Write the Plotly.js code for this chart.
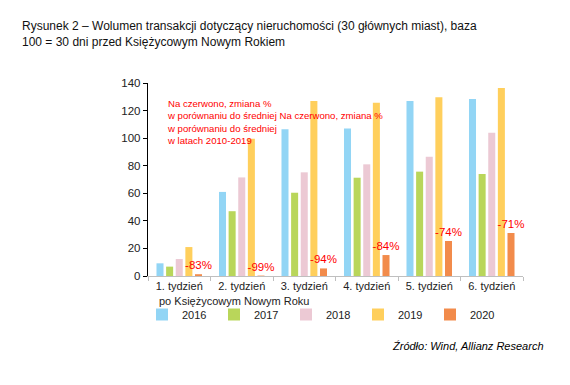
<!DOCTYPE html>
<html><head><meta charset="utf-8">
<script src="https://cdn.plot.ly/plotly-3.0.1.min.js"></script>
<style>html,body{margin:0;padding:0;background:#fff}#chart{width:570px;height:385px}</style>
</head><body><div id="chart"></div>
<script>
const categories = ["1. tydzień", "2. tydzień", "3. tydzień", "4. tydzień", "5. tydzień", "6. tydzień"];
const years = ["2016", "2017", "2018", "2019", "2020"];
const v2016 = [9.2, 61, 106.4, 107, 126.9, 128.4];
const v2017 = [6.8, 47, 60.4, 71.3, 75.7, 74];
const v2018 = [12.3, 71.5, 75.2, 81, 86.5, 104];
const v2019 = [21, 99.5, 126.9, 125.7, 129.6, 136.3];
const v2020 = [1.3, 0.3, 5.5, 15.2, 25.4, 31.2];
const changeLabels = ["-83%", "-99%", "-94%", "-84%", "-74%", "-71%"];
const colors = ["#92d5f5", "#b9d65a", "#ecc9d4", "#ffcf5c", "#f28b4b"];
const series = [v2016, v2017, v2018, v2019, v2020];

const traces = series.map((vals, i) => {
  const t = {
    type: "bar", x: categories, y: vals, name: years[i],
    marker: {color: colors[i]}, hoverinfo: "none"
  };
  if (i === 4) {
    t.text = changeLabels;
    t.textposition = "outside";
    t.constraintext = "none";
    t.cliponaxis = false;
    t.textfont = {color: "#ff0000", size: 11.5, family: "Liberation Sans, Arial, sans-serif"};
  }
  return t;
});

const layout = {
  width: 570, height: 385,
  margin: {l: 148, r: 47, t: 83, b: 109},
  paper_bgcolor: "#fff", plot_bgcolor: "#fff",
  font: {family: "Liberation Sans, Arial, sans-serif", size: 11, color: "#222"},
  barmode: "group", bargap: 0.23, bargroupgap: 0.27,
  title: {
    text: "Rysunek 2 – Wolumen transakcji dotyczący nieruchomości (30 głównych miast), baza<br>100 = 30 dni przed Księżycowym Nowym Rokiem",
    font: {size: 12, color: "#111", family: "Liberation Sans, Arial, sans-serif"},
    x: 22 / 570, xanchor: "left", xref: "container",
    y: 1 - 30 / 385, yanchor: "top", yref: "container",
    automargin: false
  },
  xaxis: {
    type: "category", showgrid: false, zeroline: false,
    showline: true, linecolor: "#bfbfbf", linewidth: 1,
    ticks: "outside", tickson: "boundaries", ticklen: 4, tickcolor: "#bfbfbf",
    tickfont: {size: 11, color: "#222"}
  },
  yaxis: {
    range: [0, 140], dtick: 20, showgrid: false, zeroline: false,
    showline: true, linecolor: "#000", linewidth: 1.2,
    ticks: "outside", ticklen: 4, tickcolor: "#000",
    tickfont: {size: 11.5, color: "#222"}
  },
  showlegend: true,
  legend: {
    orientation: "h", xref: "container", yref: "container",
    x: 142 / 570, xanchor: "left", y: 1 - 300 / 385, yanchor: "top",
    entrywidth: 27, entrywidthmode: "pixels", itemwidth: 30,
    font: {size: 11, color: "#222"}, traceorder: "normal", tracegroupgap: 0
  },
  annotations: [
    {
      text: "Na czerwono, zmiana %<br>w porównaniu do średniej Na czerwono, zmiana %<br>w porównaniu do średniej<br>w latach 2010-2019",
      xref: "paper", yref: "paper", x: (165 - 148) / 375, y: 1 - (96 - 83) / 193,
      xanchor: "left", yanchor: "top", align: "left", showarrow: false,
      font: {size: 9.6, color: "#ff0000"}
    },
    {
      text: "po Księżycowym Nowym Roku",
      xref: "paper", yref: "paper", x: (157 - 148) / 375, y: -(293 - 276) / 193,
      xanchor: "left", yanchor: "top", align: "left", showarrow: false,
      font: {size: 11, color: "#222"}
    },
    {
      text: "<i>Źródło: Wind, Allianz Research</i>",
      xref: "paper", yref: "paper", x: (546 - 148) / 375, y: -(338 - 276) / 193,
      xanchor: "right", yanchor: "top", showarrow: false,
      font: {size: 11, color: "#000"}
    }
  ]
};

Plotly.newPlot("chart", traces, layout, {displayModeBar: false, staticPlot: true});
</script></body></html>
